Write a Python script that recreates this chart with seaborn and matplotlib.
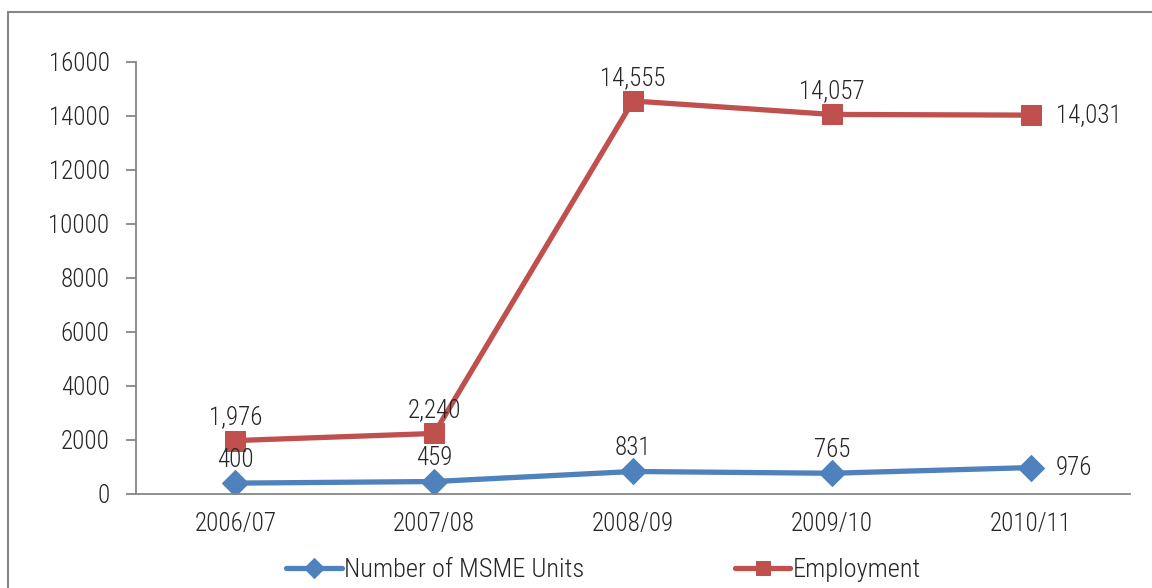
import matplotlib
matplotlib.use("Agg")
import matplotlib.pyplot as plt
from matplotlib.patches import Rectangle
from matplotlib import font_manager
import seaborn as sns
import pandas as pd

years = ["2006/07", "2007/08", "2008/09", "2009/10", "2010/11"]
msme_units = [400, 459, 831, 765, 976]
employment = [1976, 2240, 14555, 14057, 14031]
yticks = [0, 2000, 4000, 6000, 8000, 10000, 12000, 14000, 16000]

sns.set_theme(style="white")
names = {f.name for f in font_manager.fontManager.ttflist}
fam = [n for n in ["Liberation Sans Narrow", "Roboto Condensed", "Roboto"] if n in names] + ["DejaVu Sans"]
plt.rcParams["font.family"] = fam
plt.rcParams["font.weight"] = "light"

BLUE = "#4F81BD"
RED = "#C0504D"
GRAY = "#868686"
TXT = "#262626"

df = pd.DataFrame({"year": years, "msme": msme_units, "emp": employment})
df["pos"] = range(len(years))

fig = plt.figure(figsize=(11.52, 5.88), dpi=100)
ax = fig.add_axes([0.118, 0.16, 0.863, 0.7346])

sns.lineplot(data=df, x="pos", y="msme", ax=ax, color=BLUE, lw=3.8, marker="D",
             markersize=13, markeredgecolor=BLUE, label="Number of MSME Units")
sns.lineplot(data=df, x="pos", y="emp", ax=ax, color=RED, lw=3.8, marker="s",
             markersize=14, markeredgecolor=RED, label="Employment")

fs = 18
n = len(years)
for i, (m, e) in enumerate(zip(msme_units, employment)):
    if i == n - 1:
        ax.annotate(f"{m:,}", (i, m), xytext=(18, 0), textcoords="offset points",
                    ha="left", va="center", fontsize=fs, color=TXT)
        ax.annotate(f"{e:,}", (i, e), xytext=(18, 0), textcoords="offset points",
                    ha="left", va="center", fontsize=fs, color=TXT)
    else:
        ax.annotate(f"{m:,}", (i, m), xytext=(0, 8), textcoords="offset points",
                    ha="center", va="bottom", fontsize=fs, color=TXT)
        ax.annotate(f"{e:,}", (i, e), xytext=(0, 8), textcoords="offset points",
                    ha="center", va="bottom", fontsize=fs, color=TXT)

ax.set_xlim(-0.5, n - 0.5)
ax.set_ylim(0, 16000)
ax.set_yticks(yticks)
ax.set_yticklabels([str(v) for v in yticks], fontsize=fs, color=TXT)
ax.set_xticks(range(n))
ax.set_xticklabels(years, fontsize=fs, color=TXT)
ax.set_xticks([i - 0.5 for i in range(n + 1)], minor=True)
ax.tick_params(axis="x", which="major", length=0, pad=13)
ax.tick_params(axis="x", which="minor", length=7, width=1.3, color=GRAY, direction="out")
ax.tick_params(axis="y", which="major", length=7, width=1.3, color=GRAY, direction="out", left=True, pad=12)
ax.set_xlabel("")
ax.set_ylabel("")
for s in ["top", "right"]:
    ax.spines[s].set_visible(False)
for s in ["left", "bottom"]:
    ax.spines[s].set_color(GRAY)
    ax.spines[s].set_linewidth(1.3)

leg = ax.legend(loc="center", bbox_to_anchor=(0.524, 0.03), bbox_transform=fig.transFigure,
                ncol=2, frameon=False, fontsize=19, handlelength=2.1, handletextpad=0.1,
                columnspacing=5.7, labelcolor=TXT)
for h in leg.legend_handles:
    h.set_markersize(10)

fig.patches.append(Rectangle((0.0069, -0.1), 1.2, 0.9796 + 0.1, transform=fig.transFigure,
                             fill=False, edgecolor=GRAY, lw=1.5, zorder=10))

fig.savefig("out.png", dpi=100)
